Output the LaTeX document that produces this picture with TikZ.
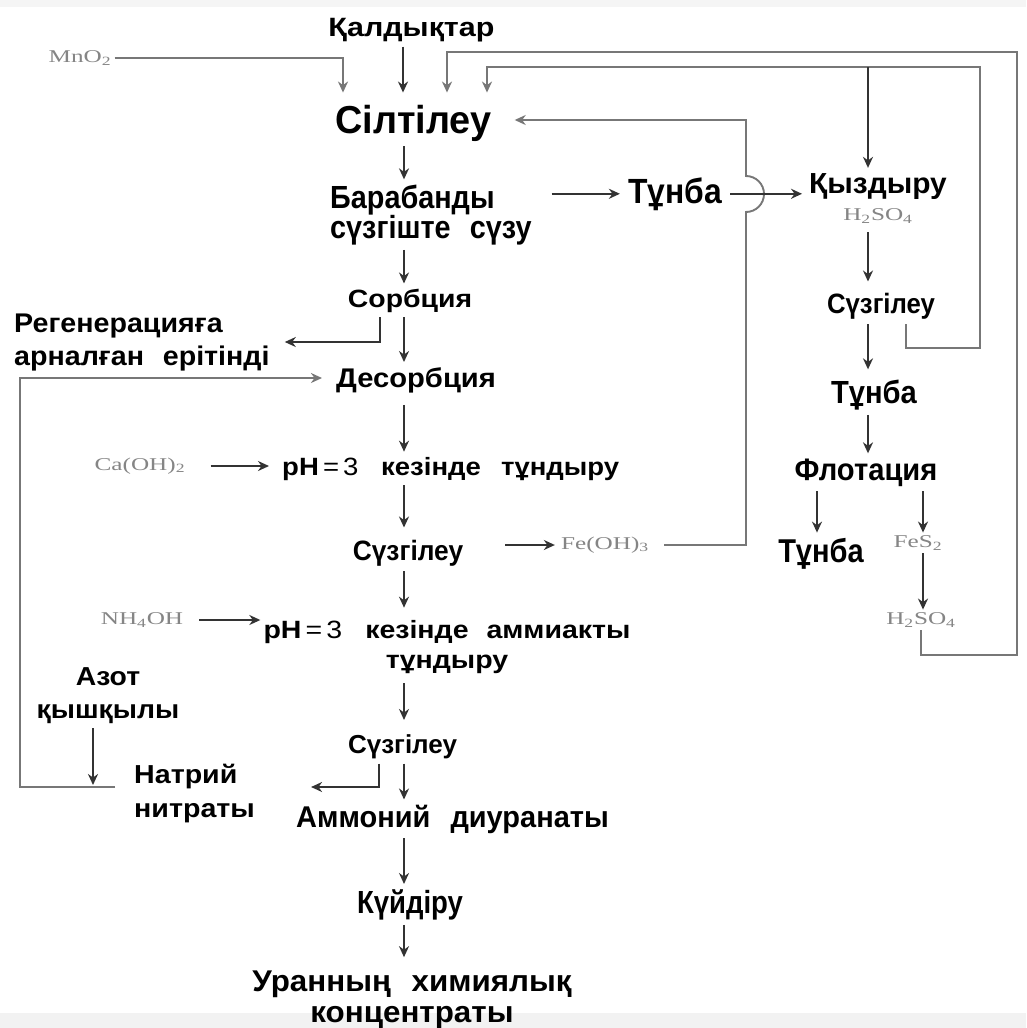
\documentclass[tikz,border=0pt]{standalone}
\usepackage{fontspec}
\usepackage{graphicx}
\setmainfont{Liberation Sans}
\newfontfamily\chemf{Liberation Serif}
\usetikzlibrary{arrows.meta}
\definecolor{arrgray}{HTML}{333333}
\definecolor{loopgray}{HTML}{777777}
\definecolor{chemgray}{HTML}{858585}
\newcommand{\cf}[1]{\scalebox{1.4}[1]{#1}}
\begin{document}
\lineskiplimit=-100pt
\lineskip=0pt
\begin{tikzpicture}[x=1pt,y=-1pt,
  lbl/.style={anchor=base, inner xsep=2pt, inner ysep=5pt, align=center, text=black},
  lab/.style n args={3}{font=\fontsize{#1}{#2}\selectfont\bfseries\addfontfeature{FakeStretch=#3}},
  chem/.style={font=\fontsize{18}{22}\selectfont\chemf, text=chemgray, inner sep=3pt},
  arr/.style={draw=arrgray, line width=2.5pt, -{Stealth[length=11pt,width=10pt]}},
  looparr/.style={draw=loopgray, line width=1.9pt, -{Stealth[length=11pt,width=10pt]}},
]
\fill[white] (0,0) rectangle (1026,1028);
\fill[black!4] (0,0) rectangle (1026,7);
\fill[black!5] (0,1013) rectangle (1026,1028);
\useasboundingbox (0,0) rectangle (1026,1028);

% ---------- nodes (multi-line nodes: base = last line) ----------
\node[lbl, lab={26.5}{32}{1.15}] (kald) at (411.5,36) {Қалдықтар};
\node[chem] (mno2) at (80,58) {\cf{MnO\textsubscript{2}}};
\node[lbl, lab={39}{47}{0.97}] (silt) at (413.5,133) {Сілтілеу};
\node[lbl, lab={32}{30}{0.9}, align=left, anchor=base west] (bar) at (328,238) {Барабанды\\сүзгіште\hspace{0.35em} сүзу};
\node[lbl, lab={35}{42}{0.91}] (tun1) at (675,203) {Тұнба};
\node[lbl, lab={29}{35}{1.03}] (kyz) at (878,193) {Қыздыру};
\node[chem] (h2a) at (878,216) {\cf{H\textsubscript{2}SO\textsubscript{4}}};
\node[lbl, lab={28}{34}{0.92}] (suzR) at (881,313) {Сүзгілеу};
\node[lbl, lab={32}{38}{0.91}] (tun2) at (874,403) {Тұнба};
\node[lbl, lab={31}{37}{0.94}] (flot) at (866,480) {Флотация};
\node[lbl, lab={33}{40}{0.88}] (tun3) at (821,562) {Тұнба};
\node[chem] (fes2) at (918,543) {\cf{FeS\textsubscript{2}}};
\node[chem] (h2b) at (921,620) {\cf{H\textsubscript{2}SO\textsubscript{4}}};
\node[lbl, lab={25}{30}{1.135}] (sorb) at (410,307) {Сорбция};
\node[lbl, lab={27}{33}{1.06}, align=left, anchor=base west] (regen) at (12,365) {Регенерацияға\\арналған\hspace{0.4em} ерітінді};
\node[lbl, lab={27}{33}{1.08}] (des) at (416,387) {Десорбция};
\node[lbl, lab={25}{30}{1.1}, anchor=base west] (ph1) at (280,475) {pH{\mdseries\,=\,3}\hspace{0.6em} кезінде\hspace{0.5em} тұндыру};
\node[chem] (ca) at (140,466) {\cf{Ca(OH)\textsubscript{2}}};
\node[lbl, lab={28}{34}{0.94}] (suz2) at (408,560) {Сүзгілеу};
\node[chem] (feoh) at (605,545) {\cf{Fe(OH)\textsubscript{3}}};
\node[chem] (nh4) at (142,620) {\cf{NH\textsubscript{4}OH}};
\node[lbl, lab={25}{30}{1.14}] (ph2) at (447,668) {pH{\mdseries\,=\,3}\hspace{0.6em} кезінде\hspace{0.4em} аммиакты\\тұндыру};
\node[lbl, lab={26}{33}{1.09}] (azot) at (108,718) {Азот\\қышқылы};
\node[lbl, lab={26}{32}{1.0}] (suz3) at (402.5,753) {Сүзгілеу};
\node[lbl, lab={26}{34}{1.1}, align=left, anchor=base west] (nat) at (132,817) {Натрий\\нитраты};
\node[lbl, lab={30}{36}{0.966}] (amm) at (452.5,827) {Аммоний\hspace{0.4em} диуранаты};
\node[lbl, lab={32}{38}{0.86}] (kuy) at (410,913) {Күйдіру};
\node[lbl, lab={30}{31}{1.045}] (uran) at (412,1022) {Уранның\hspace{0.4em} химиялық\\концентраты};

% ---------- helper coordinates ----------
\coordinate (xA) at (343,0);
\coordinate (xB) at (403,0);
\coordinate (xC) at (447,0);
\coordinate (xD) at (487,0);
\coordinate (xM) at (404,0);
\coordinate (xK) at (868,0);
\coordinate (xL) at (817,0);
\coordinate (xR) at (923,0);
\coordinate (ob) at (1017,655);
\coordinate (ot) at (1017,52);
\coordinate (ir) at (906,0);
\coordinate (ib) at (980,348);
\coordinate (it) at (980,67);
\coordinate (fb1) at (746,212);
\coordinate (fb2) at (746,120);
\coordinate (sr) at (380,342);
\coordinate (dl1) at (20,787);
\coordinate (dl2) at (20,378);
\coordinate (az) at (93,785);
\coordinate (sn) at (379,787);

% ---------- connectors into Сілтілеу ----------
\draw[looparr, shorten >=7pt] (mno2.east) -| (xA |- silt.north);
\draw[arr, shorten >=7pt] (kald.south -| xB) -- (silt.north -| xB);
\draw[looparr, shorten >=7pt] (h2b.south) |- (ob) -- (ot) -| (xC |- silt.north);
\draw[looparr, shorten >=7pt] (ir |- suzR.south) |- (ib) -- (it) -| (xD |- silt.north);
\draw[arr] (xK |- it) -- (kyz.north -| xK);
\draw[looparr, shorten <=12pt, shorten >=21pt] (feoh.east) -| (fb1) arc[start angle=90,end angle=-90,radius=18] -- (fb2) -- (silt.east |- fb2);

% ---------- main column ----------
\draw[arr] (silt.south -| xM) -- (bar.north -| xM);
\draw[arr] (bar.south -| xM) -- (sorb.north -| xM);
\draw[arr] (sorb.south -| xM) -- (des.north -| xM);
\draw[arr, shorten <=7pt] (des.south -| xM) -- (ph1.north -| xM);
\draw[arr, shorten >=7pt] (ph1.south -| xM) -- (suz2.north -| xM);
\draw[arr, shorten >=7pt] (suz2.south -| xM) -- (ph2.north -| xM);
\draw[arr, shorten <=5pt, shorten >=9pt] (ph2.south -| xM) -- (suz3.north -| xM);
\draw[arr] (suz3.south -| xM) -- (amm.north -| xM);
\draw[arr] (amm.south -| xM) -- (kuy.north -| xM);
\draw[arr, shorten >=8pt] (kuy.south -| xM) -- (uran.north -| xM);

% ---------- side branches ----------
\draw[arr, shorten <=18pt, shorten >=6pt] (bar.east |- tun1.west) -- (tun1.west);
\draw[arr, shorten <=6pt, shorten >=5pt] (tun1.east) -- (kyz.west |- tun1.east);
\draw[arr, shorten >=13pt] (sorb.south -| sr) -- (sr) -- (regen.east |- sr);
\draw[looparr, shorten <=17pt, shorten >=12pt] (nat.west |- dl1) -- (dl1) -- (dl2) -- (des.west |- dl2);
\draw[arr] (azot.south -| az) -- (az);
\draw[arr, shorten >=54pt] (suz3.south -| sn) -- (sn) -- (nat.east |- sn);
\draw[arr, shorten <=22pt, shorten >=11pt] (ca.east) -- (ca.east -| ph1.west);
\draw[arr, shorten <=40pt, shorten >=3pt] (suz2.east |- feoh.west) -- (feoh.west);
\draw[arr, shorten <=13pt, shorten >=1pt] (nh4.east) -- (nh4.east -| ph2.west);

% ---------- right column ----------
\draw[arr, shorten <=6pt, shorten >=6pt] (h2a.south -| xK) -- (suzR.north -| xK);
\draw[arr, shorten >=5pt] (suzR.south -| xK) -- (tun2.north -| xK);
\draw[arr] (tun2.south -| xK) -- (flot.north -| xK);
\draw[arr] (flot.south -| xL) -- (tun3.north -| xL);
\draw[arr] (flot.south -| xR) -- (fes2.north -| xR);
\draw[arr] (fes2.south -| xR) -- (h2b.north -| xR);
\end{tikzpicture}
\end{document}
